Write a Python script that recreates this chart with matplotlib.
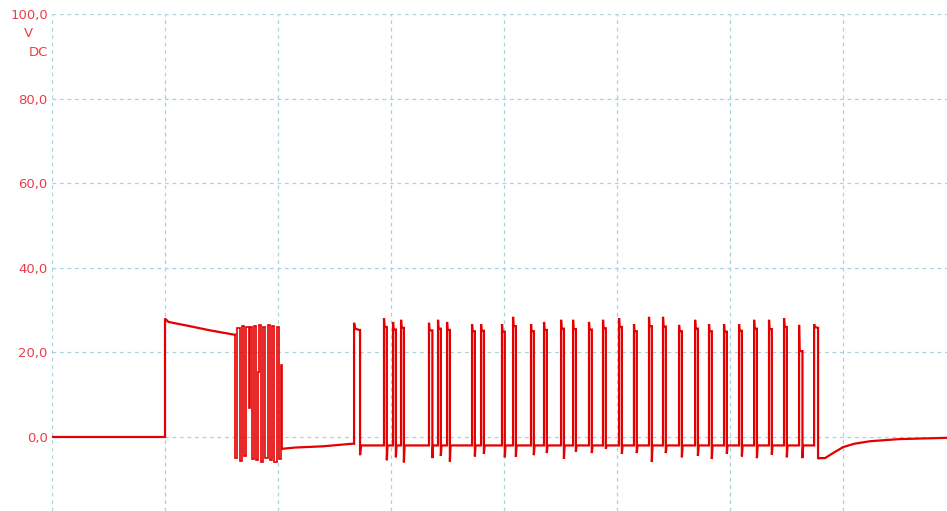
import matplotlib.pyplot as plt

TRACE_COLOR = '#e40000'
LABEL_COLOR = '#e8404a'
GRID_COLOR = '#a9d2dd'

# time axis in ms, one grid division = 100 ms
X_MAX = 792.0
X_GRID = [0, 100, 200, 300, 400, 500, 600, 700]

Y_TICKS = [0, 20, 40, 60, 80, 100]
Y_LABELS = ['0,0', '20,0', '40,0', '60,0', '80,0', '100,0']
Y_MIN = -17.5
Y_MAX = 100.0

# trace vertices (ms, V); repeated times are vertical edges
IDLE_T = [0.0, 100.0]
IDLE_V = [0.0, 0.0]

SOAK_T = [100.0, 103.0, 120.0, 140.0, 161.0, 162.0]
SOAK_V = [28.0, 27.2, 26.3, 25.2, 24.2, 24.2]

# burst edges: time of edge and level right after it
BURST_T = [162.0, 164.0, 166.0, 168.0, 170.0, 172.0, 173.9, 175.2, 176.6,
           178.6, 180.6, 182.2, 183.4, 184.8, 186.8, 188.8, 190.8, 192.8,
           194.8, 196.8, 198.8, 200.8, 202.6, 203.6]
BURST_V = [-5.0, 25.8, -5.6, 26.2, -4.6, 26.0, 6.8, 26.0, -5.2,
           26.3, -5.4, 15.4, 26.4, -5.8, 26.0, -4.9, 26.4,
           -5.5, 26.2, -6.0, 26.0, -5.2, 17.0, -2.8]

DRIFT_T = [215.0, 240.0, 265.5, 267.3]
DRIFT_V = [-2.5, -2.2, -1.6, -1.6]

WIDE_T = [267.3, 268.3, 272.0, 272.6, 272.6, 273.4]
WIDE_V = [27.0, 25.6, 25.3, 25.3, -4.3, -2.0]

BASELINE = -2.0

PULSE_T = [293.8, 301.8, 308.9, 333.6, 341.6, 349.6, 371.7, 379.7, 398.2,
           408.0, 423.9, 435.4, 450.5, 461.1, 475.2, 487.6, 501.8, 515.0,
           528.3, 540.7, 554.9, 569.1, 581.4, 594.7, 608.0, 621.3, 634.5,
           647.8, 661.1]
PULSE_PEAK = [28.1, 27.2, 27.7, 27.0, 27.7, 27.2, 26.7, 26.7, 26.7,
              28.4, 26.7, 27.2, 27.7, 27.7, 27.2, 27.7, 28.1, 26.7,
              28.4, 28.4, 26.5, 27.7, 26.7, 26.7, 26.7, 27.7, 27.7,
              28.1, 26.5]
PULSE_SAG = [26.0, 25.4, 25.8, 25.2, 25.6, 25.3, 25.0, 25.1, 24.9,
             26.2, 25.0, 25.3, 25.6, 25.5, 25.4, 25.7, 26.0, 25.0,
             26.2, 26.1, 25.0, 25.6, 25.0, 24.9, 25.1, 25.6, 25.5,
             26.0, 20.3]
PULSE_WIDTH = [2.5, 2.5, 2.5, 3.0, 2.5, 2.5, 2.5, 2.5, 2.5,
               2.5, 2.5, 2.5, 2.5, 2.5, 2.5, 2.5, 2.5, 2.5,
               2.5, 2.5, 2.5, 2.5, 2.5, 2.5, 2.5, 2.5, 2.5,
               2.5, 3.0]
PULSE_DIP = [-5.5, -4.8, -6.0, -5.0, -4.5, -5.8, -4.6, -4.0, -4.8,
             -4.7, -4.3, -3.8, -5.2, -3.5, -3.8, -2.8, -4.0, -3.8,
             -5.9, -3.8, -4.8, -4.5, -5.2, -4.0, -4.6, -5.0, -4.2,
             -4.8, -5.0]

LAST_T = [674.4, 674.4, 675.0, 677.9, 677.9, 678.5, 684.0, 690.0, 700.0,
          710.0, 724.0, 750.0, 792.0]
LAST_V = [BASELINE, 26.7, 26.0, 25.8, -5.2, -5.0, -5.0, -4.0, -2.4,
          -1.6, -1.0, -0.5, -0.2]


def build_burst():
    t, v = [], []
    level = SOAK_V[-1]
    for edge_t, edge_v in zip(BURST_T, BURST_V):
        t += [edge_t, edge_t]
        v += [level, edge_v]
        level = edge_v
    return t, v


def build_tail():
    t = [BURST_T[-1]] + DRIFT_T + WIDE_T
    v = [BURST_V[-1]] + DRIFT_V + WIDE_V

    for pt, peak, sag, width, dip in zip(
        PULSE_T, PULSE_PEAK, PULSE_SAG, PULSE_WIDTH, PULSE_DIP
    ):
        t += [pt, pt, pt + 0.4, pt + width, pt + width, pt + width + 0.6]
        v += [BASELINE, peak, sag, sag, dip, BASELINE]

    t += LAST_T
    v += LAST_V
    return t, v


def draw():
    fig = plt.figure(figsize=(9.47, 5.11), dpi=100)
    ax = fig.add_axes([52 / 947, 0, 895 / 947, 497 / 511])

    style = dict(color=TRACE_COLOR, solid_joinstyle='miter')
    ax.plot(IDLE_T + SOAK_T, IDLE_V + SOAK_V, linewidth=1.6, **style)
    # the burst edges sit close together, so a finer pen keeps them apart
    ax.plot(*build_burst(), linewidth=1.2, **style)
    ax.plot(*build_tail(), linewidth=1.6, **style)

    ax.set_xlim(0, X_MAX)
    ax.set_ylim(Y_MIN, Y_MAX)
    ax.set_xticks(X_GRID)
    ax.set_yticks(Y_TICKS)
    ax.set_yticklabels(Y_LABELS)
    ax.tick_params(axis='x', length=0, labelbottom=False)
    ax.tick_params(axis='y', length=0, pad=3, labelsize=9.5,
                   labelcolor=LABEL_COLOR)
    ax.grid(True, color=GRID_COLOR, linestyle=(0, (3, 3)), linewidth=0.9)
    ax.set_axisbelow(True)
    for spine in ax.spines.values():
        spine.set_visible(False)

    # unit labels under the top tick
    ax.annotate('V', xy=(0, Y_MAX), xycoords=('axes fraction', 'data'),
                xytext=(-17, -14), textcoords='offset points',
                ha='center', va='center', fontsize=9.5, color=LABEL_COLOR)
    ax.annotate('DC', xy=(0, Y_MAX), xycoords=('axes fraction', 'data'),
                xytext=(-3, -27.5), textcoords='offset points',
                ha='right', va='center', fontsize=9.5, color=LABEL_COLOR)

    fig.savefig('out.png', dpi=100)
    plt.close(fig)


draw()
